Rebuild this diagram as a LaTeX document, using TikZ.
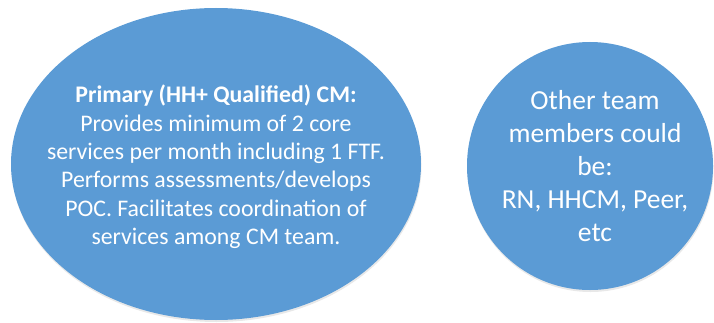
\documentclass[tikz,border=0pt]{standalone}
\usepackage{fontspec}
\setmainfont{Carlito}
\usetikzlibrary{shapes.geometric,shadows}
\definecolor{cmblue}{RGB}{91,155,213}
\tikzset{
  bubble/.style={ellipse,fill=cmblue,inner sep=0pt,
    drop shadow={opacity=0.18,shadow xshift=0.5pt,shadow yshift=-2pt}},
  bubbletext/.style={text=white,align=center,inner sep=0pt},
}
\begin{document}
\begin{tikzpicture}[x=1pt,y=1pt]
\useasboundingbox (0,0) rectangle (714,322);
% primary case manager
\node[bubble,minimum width=410pt,minimum height=312pt] (primary) at (216,158) {};
\node[bubbletext,font=\fontsize{23.8}{28.4}\selectfont] (primarytext) at (216,155)
  {\textbf{Primary (HH+ Qualified) CM:}\\
   Provides minimum of 2 core\\
   services per month including 1 FTF.\\
   Performs assessments/develops\\
   POC. Facilitates coordination of\\
   services among CM team.};
% other team members
\node[bubble,minimum width=246pt,minimum height=248pt] (others) at (590,156) {};
\node[bubbletext,font=\fontsize{27.5}{33}\selectfont] (otherstext) at (595,156)
  {Other team\\ members could\\ be:\\ RN, HHCM, Peer,\\ etc};
\end{tikzpicture}
\end{document}
